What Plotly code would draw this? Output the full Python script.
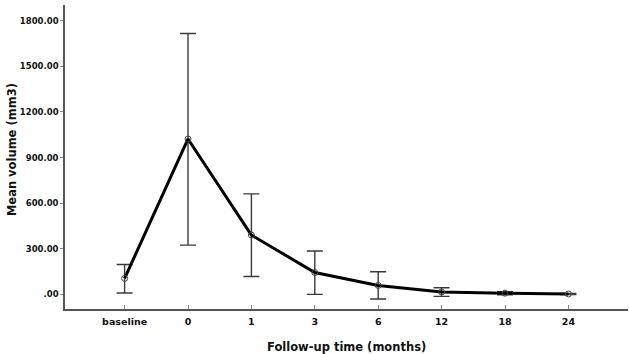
import plotly.graph_objects as go

categories = ["baseline", "0", "1", "3", "6", "12", "18", "24"]
mean_volume = [105, 1022, 390, 144, 59, 16, 8, 3]
upper_ci = [197, 1716, 661, 285, 149, 44, 18, 7]
lower_ci = [9, 324, 118, 0, -30, -13, -2, -1]

err_plus = [u - m for u, m in zip(upper_ci, mean_volume)]
err_minus = [m - l for m, l in zip(mean_volume, lower_ci)]

ytick_vals = [0, 300, 600, 900, 1200, 1500, 1800]
ytick_text = [".00", "300.00", "600.00", "900.00", "1200.00", "1500.00", "1800.00"]

FONT = "DejaVu Sans"

fig = go.Figure()
fig.add_trace(go.Scatter(
    x=list(range(len(categories))),
    y=mean_volume,
    mode="lines+markers",
    line=dict(color="black", width=3),
    marker=dict(symbol="circle-open", size=6, color="#444", line=dict(width=1)),
    error_y=dict(type="data", array=err_plus, arrayminus=err_minus,
                 color="#3a3a3a", thickness=1.4, width=8, visible=True),
    showlegend=False,
))

fig.update_layout(
    width=629, height=354,
    margin=dict(l=65, r=1, t=5, b=45),
    paper_bgcolor="white", plot_bgcolor="white",
    font=dict(family=FONT, color="#111"),
    xaxis=dict(
        tickmode="array", tickvals=list(range(len(categories))), ticktext=categories,
        range=[-0.94, 7.94], showgrid=False, zeroline=False, automargin=False,
        showline=True, linecolor="#555", linewidth=1.5,
        ticks="inside", ticklen=4, tickcolor="#888", ticklabelstandoff=3,
        tickfont=dict(family=FONT, size=9.5, color="#111", weight="bold"),
    ),
    yaxis=dict(
        tickmode="array", tickvals=ytick_vals, ticktext=ytick_text,
        range=[-96, 1903], showgrid=False, zeroline=False, automargin=False,
        showline=True, linecolor="#555", linewidth=1.5,
        ticks="outside", ticklen=3, tickcolor="#888",
        tickfont=dict(family=FONT, size=8.5, color="#111", weight="bold"),
    ),
    annotations=[
        dict(text="<b>Follow-up time (months)</b>", xref="paper", yref="paper",
             x=0.5, y=-0.125, xanchor="center", yanchor="middle", showarrow=False,
             font=dict(family=FONT, size=11.5, color="#111")),
        dict(text="<b>Mean volume (mm3)</b>", xref="paper", yref="paper",
             x=-0.094, y=0.523, xanchor="center", yanchor="middle", showarrow=False,
             textangle=-90, font=dict(family=FONT, size=11.5, color="#111")),
    ],
)

fig.write_html("out.html", config={"displayModeBar": False},
               post_script="document.body.style.margin='0';document.body.style.overflow='hidden';")
